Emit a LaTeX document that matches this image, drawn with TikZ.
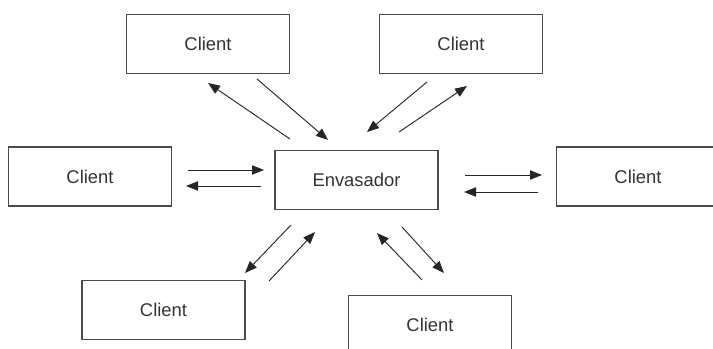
\documentclass[tikz,border=0pt]{standalone}
\usepackage{fontspec}
\setmainfont{Liberation Sans}
\usetikzlibrary{arrows.meta}
\definecolor{boxline}{HTML}{4A4A4A}
\definecolor{txt}{HTML}{333333}
\tikzset{
  client/.style={draw=boxline, line width=0.8pt, fill=white, minimum width=163*0.75pt,
    minimum height=59*0.75pt, inner sep=0pt, text=txt, font=\fontsize{13.8pt}{16pt}\selectfont},
  msg/.style={line width=0.7pt, draw=black!85, -{Triangle[length=9pt,width=7pt]}}
}
\begin{document}
\begin{tikzpicture}[x=0.75pt,y=-0.75pt]
\useasboundingbox (0,0) rectangle (713,349);
\clip (0,0) rectangle (713,349);
% server and clients
\node[client] (srv) at (356.5,180) {Envasador};
\node[client] (c1) at (208,44) {Client};
\node[client] (c2) at (461,44) {Client};
\node[client] (c3) at (90,176.5) {Client};
\node[client] (c4) at (638,176.5) {Client};
\node[client] (c5) at (163.5,310) {Client};
\node[client] (c6) at (430,325) {Client};
% message end points
\coordinate (a1s) at (290,139); \coordinate (a1e) at (208,83);
\coordinate (b1s) at (257,79);  \coordinate (b1e) at (328,140);
\coordinate (a2s) at (427,82);  \coordinate (a2e) at (367,132);
\coordinate (b2s) at (399,132); \coordinate (b2e) at (467,86);
\coordinate (a3s) at (188,170); \coordinate (a3e) at (264,170);
\coordinate (b3s) at (261,186); \coordinate (b3e) at (186,186);
\coordinate (a4s) at (465,175); \coordinate (a4e) at (542,175);
\coordinate (b4s) at (538,192); \coordinate (b4e) at (464,192);
\coordinate (a5s) at (291,225); \coordinate (a5e) at (245,273);
\coordinate (b5s) at (269,281); \coordinate (b5e) at (315,232);
\coordinate (a6s) at (422,280); \coordinate (a6e) at (377,233);
\coordinate (b6s) at (402,227); \coordinate (b6e) at (444,273);
% messages
\foreach \p in {a1,b1,a2,b2,a3,b3,a4,b4,a5,b5,a6,b6}
  \draw[msg] (\p s) -- (\p e);
\end{tikzpicture}
\end{document}
